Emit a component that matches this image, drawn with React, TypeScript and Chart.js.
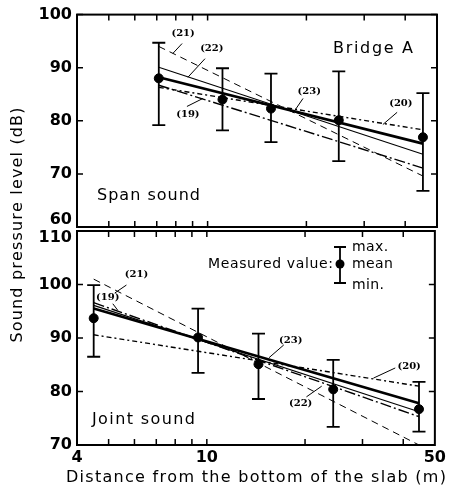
import React, { useEffect, useRef } from "react";
import { Chart, registerables } from "chart.js";
Chart.register(...registerables);

// ---------- Data: Span sound (top panel) ----------
const spanDistances = [7.1, 11.1, 15.6, 25.1, 45.3];
const spanMean = [88.0, 84.0, 82.3, 80.1, 76.9];
const spanMax = [94.7, 89.9, 88.9, 89.3, 85.2];
const spanMin = [79.2, 78.2, 76.0, 72.4, 66.8];
const spanLineRange = [7.1, 45.3];
const spanEq19 = [86.7, 71.1];
const spanEq20 = [86.3, 78.3];
const spanEq21 = [94.0, 69.6];
const spanEq22 = [90.1, 73.7];
const spanEq23 = [88.2, 75.7];

// ---------- Data: Joint sound (bottom panel) ----------
const jointDistances = [4.5, 9.4, 14.4, 24.4, 44.7];
const jointMean = [93.7, 90.1, 85.1, 80.4, 76.7];
const jointMax = [99.9, 95.5, 90.8, 85.9, 81.8];
const jointMin = [86.5, 83.5, 78.6, 73.4, 72.5];
const jointLineRange = [4.5, 44.7];
const jointEq19 = [96.6, 75.3];
const jointEq20 = [90.6, 81.0];
const jointEq21 = [101.0, 70.0];
const jointEq22 = [96.1, 76.2];
const jointEq23 = [95.5, 77.8];

// ---------- Axes ----------
const xMinorTicks = [5, 6, 7, 8, 9, 10, 20, 30, 40];
const xTickLabels = [4, 10, 50];
const xRange = [4, 50];
const spanYRange = [60, 100];
const jointYRange = [70, 110];
const equationNames = ["(19)", "(20)", "(21)", "(22)", "(23)"];

type Annot = { text: string; x: number; y: number; from: number[]; to: number[] };

const spanAnnots: Annot[] = [
  { text: "(21)", x: 8.42, y: 96.4, from: [8.36, 94.55], to: [7.84, 92.7] },
  { text: "(22)", x: 10.3, y: 93.6, from: [9.82, 91.7], to: [8.71, 88.2] },
  { text: "(19)", x: 8.71, y: 81.2, from: [8.65, 82.7], to: [9.67, 84.2] },
  { text: "(23)", x: 20.4, y: 85.5, from: [19.53, 84.2], to: [18.46, 82.0] },
  { text: "(20)", x: 38.8, y: 83.3, from: [37.8, 81.6], to: [34.2, 79.3] },
];
const jointAnnots: Annot[] = [
  { text: "(21)", x: 6.09, y: 101.8, from: [5.67, 99.9], to: [5.22, 98.4] },
  { text: "(19)", x: 4.97, y: 97.5, from: [5.15, 96.4], to: [5.33, 95.2] },
  { text: "(23)", x: 18.08, y: 89.6, from: [17.21, 88.7], to: [15.5, 86.3] },
  { text: "(20)", x: 41.7, y: 84.6, from: [37.8, 84.4], to: [32.4, 82.5] },
  { text: "(22)", x: 19.39, y: 77.7, from: [20.2, 79.0], to: [22.5, 81.0] },
];

const eqStyles = [
  { borderDash: [11, 3, 2, 3], borderWidth: 1.4 },
  { borderDash: [5, 3, 2, 3], borderWidth: 1.4 },
  { borderDash: [7, 5], borderWidth: 1 },
  { borderDash: [], borderWidth: 1.1 },
  { borderDash: [], borderWidth: 2.6 },
];

const TEXT_FONT = "16px 'DejaVu Sans'";
const LEGEND_FONT = "14px 'DejaVu Sans'";
const TITLE_FONT = "16px 'DejaVu Sans'";
const TICK_FONT = { family: "DejaVu Sans", size: 16, weight: "bold" as const };
const TICK_FONT_CSS = "bold 16px 'DejaVu Sans'";

function spaced(ctx: CanvasRenderingContext2D, text: string, x: number, y: number, width: number, align: string) {
  const chars = Array.from(text);
  const widths = chars.map((c) => ctx.measureText(c).width);
  const natural = widths.reduce((a, b) => a + b, 0);
  let gap = chars.length > 1 ? (width - natural) / (chars.length - 1) : 0;
  if (gap < 0.4) gap = 0.4;
  const total = natural + gap * (chars.length - 1);
  let cx = align === "left" ? x : align === "center" ? x - total / 2 : x - total;
  ctx.textAlign = "left";
  ctx.textBaseline = "middle";
  chars.forEach((c, i) => {
    ctx.fillText(c, cx, y);
    cx += widths[i] + gap;
  });
}

interface PanelSpec {
  dist: number[];
  mean: number[];
  max: number[];
  min: number[];
  range: number[];
  eqs: number[][];
  yRange: number[];
  annots: Annot[];
  bottom: boolean;
}

const spanPanel: PanelSpec = {
  dist: spanDistances, mean: spanMean, max: spanMax, min: spanMin,
  range: spanLineRange, eqs: [spanEq19, spanEq20, spanEq21, spanEq22, spanEq23],
  yRange: spanYRange, annots: spanAnnots, bottom: false,
};
const jointPanel: PanelSpec = {
  dist: jointDistances, mean: jointMean, max: jointMax, min: jointMin,
  range: jointLineRange, eqs: [jointEq19, jointEq20, jointEq21, jointEq22, jointEq23],
  yRange: jointYRange, annots: jointAnnots, bottom: true,
};

function makeConfig(p: PanelSpec): any {
  // the label at the panel junction is nudged inward (60 up, 110 down)
  const junctionValue = p.bottom ? p.yRange[1] : p.yRange[0];

  const errorBars = {
    id: "errorBars",
    beforeDatasetsDraw(chart: any) {
      const ctx = chart.ctx;
      const xs = chart.scales.x;
      const ys = chart.scales.y;
      ctx.save();
      ctx.strokeStyle = "#000";
      ctx.lineWidth = 1.8;
      p.dist.forEach((d, i) => {
        const px = xs.getPixelForValue(d);
        const t = ys.getPixelForValue(p.max[i]);
        const b = ys.getPixelForValue(p.min[i]);
        ctx.beginPath();
        ctx.moveTo(px, t);
        ctx.lineTo(px, b);
        ctx.moveTo(px - 6.5, t);
        ctx.lineTo(px + 6.5, t);
        ctx.moveTo(px - 6.5, b);
        ctx.lineTo(px + 6.5, b);
        ctx.stroke();
      });
      ctx.restore();
    },
  };

  const decorations = {
    id: "decorations",
    afterDraw(chart: any) {
      const ctx: CanvasRenderingContext2D = chart.ctx;
      const a = chart.chartArea;
      const xs = chart.scales.x;
      const ys = chart.scales.y;
      ctx.save();
      ctx.strokeStyle = "#000";
      ctx.fillStyle = "#000";
      // frame
      ctx.lineWidth = 2;
      ctx.strokeRect(a.left, a.top, a.right - a.left, a.bottom - a.top);
      // inward ticks
      ctx.lineWidth = 1.5;
      ctx.beginPath();
      ys.ticks.forEach((t: any) => {
        const py = ys.getPixelForValue(t.value);
        ctx.moveTo(a.left, py);
        ctx.lineTo(a.left + 6, py);
        ctx.moveTo(a.right, py);
        ctx.lineTo(a.right - 6, py);
      });
      xMinorTicks.forEach((v) => {
        const px = xs.getPixelForValue(v);
        ctx.moveTo(px, a.top);
        ctx.lineTo(px, a.top + 6);
        ctx.moveTo(px, a.bottom);
        ctx.lineTo(px, a.bottom - 6);
      });
      ctx.stroke();

      // junction tick label
      ctx.font = TICK_FONT_CSS;
      ctx.textAlign = "right";
      ctx.textBaseline = "middle";
      const jy = ys.getPixelForValue(junctionValue) + (p.bottom ? 7 : -7);
      ctx.fillText(String(junctionValue), a.left - 5, jy);

      // equation labels
      ctx.font = "bold 10px 'DejaVu Serif'";
      ctx.lineWidth = 1;
      p.annots.forEach((an) => {
        ctx.textAlign = "center";
        ctx.textBaseline = "middle";
        ctx.fillText(an.text, xs.getPixelForValue(an.x), ys.getPixelForValue(an.y));
        ctx.beginPath();
        ctx.moveTo(xs.getPixelForValue(an.from[0]), ys.getPixelForValue(an.from[1]));
        ctx.lineTo(xs.getPixelForValue(an.to[0]), ys.getPixelForValue(an.to[1]));
        ctx.stroke();
      });

      ctx.font = TEXT_FONT;
      if (!p.bottom) {
        spaced(ctx, "Bridge A", a.left + 256, a.top + 34, 80, "left");
        spaced(ctx, "Span sound", a.left + 20, a.top + 181, 103, "left");
        // y-axis title spanning both panels
        ctx.save();
        ctx.font = TITLE_FONT;
        ctx.translate(18, 225);
        ctx.rotate(-Math.PI / 2);
        spaced(ctx, "Sound pressure level (dB)", 0, 0, 235, "center");
        ctx.restore();
      } else {
        spaced(ctx, "Joint sound", a.left + 15, a.top + 189, 103, "left");
        // legend for measured value
        const lx = a.left + 263;
        const lt = a.top + 16;
        const lb = a.top + 52;
        const lm = a.top + 33;
        ctx.lineWidth = 1.8;
        ctx.beginPath();
        ctx.moveTo(lx, lt);
        ctx.lineTo(lx, lb);
        ctx.moveTo(lx - 6, lt);
        ctx.lineTo(lx + 6, lt);
        ctx.moveTo(lx - 6, lb);
        ctx.lineTo(lx + 6, lb);
        ctx.stroke();
        ctx.beginPath();
        ctx.arc(lx, lm, 4.5, 0, Math.PI * 2);
        ctx.fill();
        ctx.font = LEGEND_FONT;
        spaced(ctx, "Measured value:", lx - 7, lm, 125, "right");
        spaced(ctx, "max.", lx + 12, lt, 36, "left");
        spaced(ctx, "mean", lx + 12, lm, 40, "left");
        spaced(ctx, "min.", lx + 12, lb + 2, 32, "left");
        // x-axis title
        ctx.font = TITLE_FONT;
        spaced(ctx, "Distance from the bottom of the slab (m)", (a.left + a.right) / 2, 478, 380, "center");
      }
      ctx.restore();
    },
  };

  const datasets: any[] = p.eqs.map((eq, i) => ({
    type: "line",
    label: equationNames[i],
    data: [
      { x: p.range[0], y: eq[0] },
      { x: p.range[1], y: eq[1] },
    ],
    borderColor: "#000",
    borderWidth: eqStyles[i].borderWidth,
    borderDash: eqStyles[i].borderDash,
    pointRadius: 0,
    fill: false,
    tension: 0,
    order: 2,
  }));
  datasets.push({
    type: "line",
    label: "Measured mean",
    data: p.dist.map((d, i) => ({ x: d, y: p.mean[i] })),
    showLine: false,
    pointRadius: 4.5,
    pointBackgroundColor: "#000",
    pointBorderColor: "#000",
    order: 0,
  });

  return {
    type: "line",
    data: { datasets },
    options: {
      responsive: false,
      animation: false,
      events: [],
      layout: {
        padding: p.bottom
          ? { top: 231, right: 12, bottom: 0, left: 0 }
          : { top: 14, right: 12, bottom: 258, left: 0 },
      },
      plugins: { legend: { display: false }, tooltip: { enabled: false } },
      scales: {
        x: {
          type: "logarithmic",
          min: xRange[0],
          max: xRange[1],
          display: p.bottom,
          grid: { display: false, drawTicks: false },
          border: { display: false },
          afterBuildTicks: (s: any) => {
            s.ticks = xTickLabels.map((v) => ({ value: v }));
          },
          afterFit: (s: any) => {
            if (p.bottom) s.height = 40;
          },
          ticks: {
            autoSkip: false,
            maxRotation: 0,
            minRotation: 0,
            padding: 3,
            color: "#000",
            font: TICK_FONT,
            callback: (v: any) => String(v),
          },
        },
        y: {
          type: "linear",
          min: p.yRange[0],
          max: p.yRange[1],
          grid: { display: false, drawTicks: false },
          border: { display: false },
          afterFit: (s: any) => {
            s.width = 77;
          },
          ticks: {
            stepSize: 10,
            padding: 5,
            color: "#000",
            font: TICK_FONT,
            callback: (v: any) => (v === junctionValue ? "" : String(v)),
          },
        },
      },
    },
    plugins: [errorBars, decorations],
  };
}

export default function App() {
  const topRef = useRef<HTMLCanvasElement>(null);
  const botRef = useRef<HTMLCanvasElement>(null);
  useEffect(() => {
    const a = new Chart(topRef.current as HTMLCanvasElement, makeConfig(spanPanel));
    const b = new Chart(botRef.current as HTMLCanvasElement, makeConfig(jointPanel));
    return () => {
      a.destroy();
      b.destroy();
    };
  }, []);
  return (
    <div style={{ position: "fixed", left: 0, top: 0, width: 449, height: 485, background: "#fff" }}>
      <canvas ref={botRef} width={449} height={485} style={{ position: "absolute", left: 0, top: 0 }} />
      <canvas ref={topRef} width={449} height={485} style={{ position: "absolute", left: 0, top: 0 }} />
    </div>
  );
}
